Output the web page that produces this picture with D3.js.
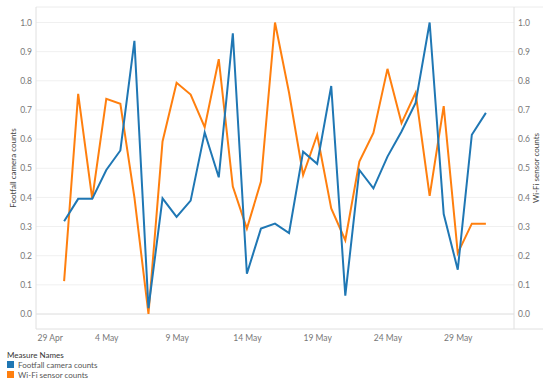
<!DOCTYPE html>
<html><head><meta charset="utf-8">
<script src="https://cdn.jsdelivr.net/npm/d3@7"></script>
<style>body{margin:0;background:#fff}svg{display:block}text{font-family:Lato,"Open Sans",sans-serif}</style>
</head><body><svg id="c" width="550" height="383"></svg>
<script>
const startDate = "2019-05-01";
const footfall = [0.318,0.395,0.395,0.494,0.561,0.937,0.02,0.397,0.333,0.389,0.623,0.469,0.963,0.138,0.293,0.310,0.278,0.557,0.515,0.782,0.063,0.494,0.431,0.540,0.626,0.724,1.0,0.343,0.152,0.615,0.690];
const wifi = [0.113,0.755,0.395,0.738,0.721,0.40,0.0,0.592,0.793,0.753,0.641,0.874,0.437,0.293,0.454,1.0,0.759,0.477,0.615,0.362,0.253,0.523,0.621,0.841,0.655,0.759,0.405,0.713,0.209,0.310,0.310];
const xTicks = ["2019-04-29","2019-05-04","2019-05-09","2019-05-14","2019-05-19","2019-05-24","2019-05-29"];
const yTicks = [0,0.1,0.2,0.3,0.4,0.5,0.6,0.7,0.8,0.9,1.0];
const seriesNames = ["Footfall camera counts","Wi-Fi sensor counts"];
const colors = ["#1f77b4","#ff7f0e"];

const parse = d3.utcParse("%Y-%m-%d");
const d0 = parse(startDate);
const dates = footfall.map((_, i) => d3.utcDay.offset(d0, i));
const svg = d3.select("#c");
const L = 36, R = 514, T = 7, B = 329;
const x = d3.scaleUtc().domain([parse("2019-04-29"), parse("2019-06-02")]).range([L, R]);
const yL = d3.scaleLinear().domain([0, 1]).range([314, 22.5]);
const yR = d3.scaleLinear().domain([0, 1]).range([314, 22.5]);

// gridlines
svg.append("g").selectAll("line").data(yTicks).join("line")
  .attr("x1", L).attr("x2", R).attr("y1", d => yL(d)).attr("y2", d => yL(d))
  .attr("stroke", d => d === 0 ? "#dcdcdc" : "#f0f0f0").attr("stroke-width", 1);
// frame
svg.append("line").attr("x1", L).attr("x2", 543).attr("y1", T).attr("y2", T).attr("stroke", "#ececec");
svg.append("line").attr("x1", L).attr("x2", 543).attr("y1", B).attr("y2", B).attr("stroke", "#e0e0e0");
svg.append("line").attr("x1", L).attr("x2", L).attr("y1", T).attr("y2", B).attr("stroke", "#e0e0e0");
svg.append("line").attr("x1", R).attr("x2", R).attr("y1", T).attr("y2", B).attr("stroke", "#e0e0e0");

// axes
const axL = svg.append("g").attr("transform", `translate(${L},0)`)
  .call(d3.axisLeft(yL).tickValues(yTicks).tickFormat(d3.format(".1f")).tickSize(0).tickPadding(4));
const axR = svg.append("g").attr("transform", `translate(${R},0)`)
  .call(d3.axisRight(yR).tickValues(yTicks).tickFormat(d3.format(".1f")).tickSize(0).tickPadding(4));
const axX = svg.append("g").attr("transform", `translate(0,${B})`)
  .call(d3.axisBottom(x).tickValues(xTicks.map(parse)).tickFormat(d3.utcFormat("%-d %b")).tickSize(0).tickPadding(6));
[axL, axR, axX].forEach(a => {
  a.select(".domain").remove();
  a.selectAll("text").attr("fill", "#777").attr("font-size", 8.5);
});
axX.selectAll(".tick").filter((d, i) => i === 0).select("text").attr("text-anchor", "start").attr("dx", 1);

// axis titles
svg.append("text").attr("transform", `translate(16,${(T + B) / 2}) rotate(-90)`)
  .attr("text-anchor", "middle").attr("font-size", 8).attr("fill", "#444").text("Footfall camera counts");
svg.append("text").attr("transform", `translate(539,${(T + B) / 2}) rotate(-90)`)
  .attr("text-anchor", "middle").attr("font-size", 8).attr("fill", "#444").text("Wi-Fi sensor counts");

// lines
const lineL = d3.line().x((d, i) => x(dates[i])).y(d => yL(d));
const lineR = d3.line().x((d, i) => x(dates[i])).y(d => yR(d));
svg.append("path").datum(wifi).attr("d", lineR).attr("fill", "none").attr("stroke", colors[1]).attr("stroke-width", 2).attr("stroke-linejoin", "miter");
svg.append("path").datum(footfall).attr("d", lineL).attr("fill", "none").attr("stroke", colors[0]).attr("stroke-width", 2).attr("stroke-linejoin", "miter");

// legend
svg.append("text").attr("x", 7).attr("y", 358).attr("font-size", 8).attr("fill", "#333").text("Measure Names");
const lg = svg.append("g").selectAll("g").data(seriesNames).join("g")
  .attr("transform", (d, i) => `translate(7,${361 + i * 10})`);
lg.append("rect").attr("width", 7).attr("height", 7).attr("fill", (d, i) => colors[i]);
lg.append("text").attr("x", 11).attr("y", 6.5).attr("font-size", 8).attr("fill", "#555").text(d => d);
</script></body></html>
